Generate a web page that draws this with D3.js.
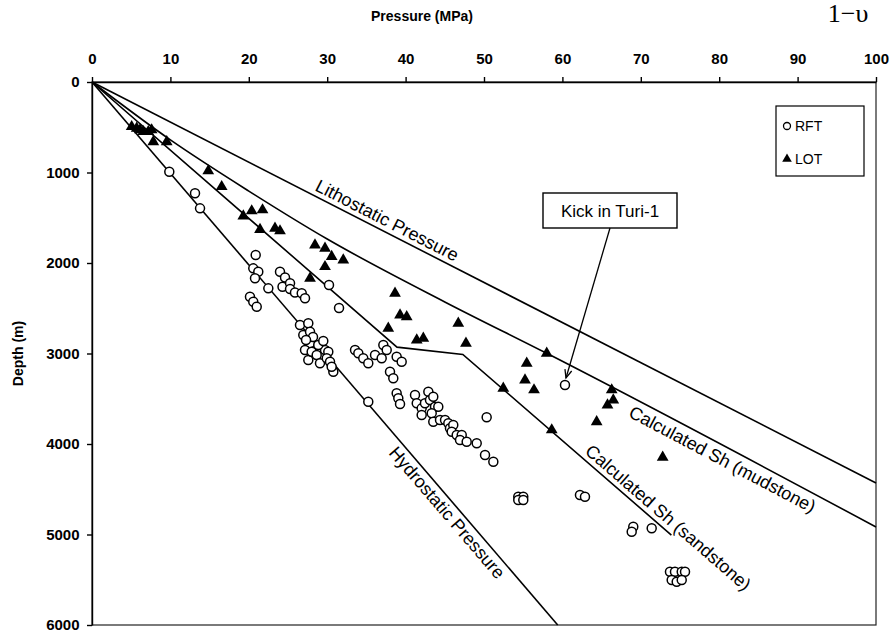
<!DOCTYPE html>
<html>
<head>
<meta charset="utf-8">
<script src="https://cdn.jsdelivr.net/npm/d3@7"></script>
<style>
  body { margin: 0; background: #fff; }
  svg text { font-family: "Liberation Sans", Arial, Helvetica, sans-serif; fill: #000; }
</style>
</head>
<body>
<svg id="chart" width="893" height="631"></svg>
<script>
// axis ticks
const pressureTicks = [0, 10, 20, 30, 40, 50, 60, 70, 80, 90, 100];
const depthTicks = [0, 1000, 2000, 3000, 4000, 5000, 6000];

// pressure (MPa), depth (m) pairs
const lithostatic = [[0, 0], [100, 4430]];
const hydrostatic = [[0, 0], [59.4, 6000]];
const mudstone = [[0, 0], [10, 640], [20, 1205], [30, 1735], [45, 2430], [58, 2998], [100, 4917]];
const sandstone = [[0, 0], [38.9, 2930], [47.3, 3010], [73.9, 5006]];

const rft = [
  [9.86, 991], [13.14, 1230], [13.78, 1396], [20.88, 1912], [20.57, 2059], [21.21, 2096],
  [20.79, 2169], [22.49, 2280], [20.15, 2372], [20.57, 2428], [21.01, 2483], [23.98, 2096],
  [24.62, 2160], [24.30, 2262], [25.26, 2224], [25.26, 2287], [25.89, 2326], [26.75, 2335],
  [27.17, 2390], [30.23, 2243], [31.51, 2497],
  [26.53, 2685], [27.59, 2666], [26.95, 2796], [27.81, 2759], [27.81, 2887], [27.17, 2961],
  [27.59, 3072], [28.02, 2980], [28.66, 3017], [29.08, 3108], [29.72, 2961], [30.14, 2980],
  [29.94, 3053], [30.36, 3091], [30.78, 3201], [30.57, 3146], [28.86, 2906], [29.5, 2862],
  [28.19, 2818], [27.3, 2851],
  [33.55, 2961], [33.97, 2998], [34.60, 3053], [35.24, 3108], [36.10, 3017], [36.95, 3053],
  [37.16, 2906], [37.59, 2961], [38.86, 3035], [39.50, 3091], [38.01, 3201], [38.43, 3274],
  [38.86, 3440], [39.07, 3495], [39.29, 3558], [35.24, 3533],
  [41.20, 3459], [41.42, 3550], [42.05, 3606], [42.05, 3680], [42.47, 3550], [42.90, 3422],
  [43.11, 3514], [43.53, 3477], [43.75, 3588], [44.17, 3588], [43.33, 3661], [43.53, 3754],
  [44.39, 3735], [45.03, 3735], [45.45, 3771], [45.66, 3826], [46.08, 3790], [45.88, 3864],
  [46.52, 3901], [47.16, 3901], [46.94, 3956], [47.79, 3975], [49.07, 3992], [50.34, 3705],
  [50.13, 4122], [51.19, 4196],
  [60.33, 3348],
  [54.37, 4582], [55.01, 4582], [54.37, 4619], [55.01, 4619],
  [62.24, 4564], [62.88, 4582], [69.04, 4914], [68.84, 4969], [71.39, 4931],
  [73.72, 5411], [74.36, 5411], [75.22, 5411], [75.64, 5411], [73.94, 5503], [74.58, 5522], [75.22, 5503]
];

const lot = [
  [5.06, 494], [5.70, 512], [6.12, 530], [6.54, 549], [7.18, 549], [7.61, 530], [7.82, 660],
  [9.53, 660], [14.83, 983], [16.54, 1157], [19.30, 1481], [20.37, 1425], [21.75, 1414],
  [21.43, 1630], [23.34, 1617], [23.98, 1646], [28.44, 1801], [29.72, 1838], [30.57, 1930],
  [32.05, 1967], [29.72, 2041], [27.81, 2169], [38.65, 2335], [39.29, 2575], [40.14, 2594],
  [37.79, 2722], [41.42, 2851], [42.26, 2832], [46.72, 2666], [47.70, 2887], [52.46, 3385],
  [55.45, 3108], [55.23, 3293], [56.38, 3403], [58.00, 2998], [58.64, 3845], [66.29, 3403],
  [66.49, 3514], [65.75, 3569], [64.37, 3754], [72.79, 4147]
];

const kick = [60.33, 3348];

const svg = d3.select("#chart");
const x = d3.scaleLinear().domain([0, 100]).range([92, 876]);
const y = d3.scaleLinear().domain([0, 6000]).range([82, 625]);

// frame
svg.append("rect")
  .attr("x", x(0)).attr("y", y(0))
  .attr("width", x(100) - x(0)).attr("height", y(6000) - y(0))
  .attr("fill", "none").attr("stroke", "#222").attr("stroke-width", 1.2);

const xAxis = svg.append("g")
  .attr("transform", `translate(0,${y(0)})`)
  .call(d3.axisTop(x).tickValues(pressureTicks).tickSize(5).tickSizeOuter(0).tickFormat(d3.format("d")));
const yAxis = svg.append("g")
  .attr("transform", `translate(${x(0)},0)`)
  .call(d3.axisLeft(y).tickValues(depthTicks).tickSize(5).tickSizeOuter(0).tickFormat(d3.format("d")));

[xAxis, yAxis].forEach(g => {
  g.selectAll("path, line").attr("stroke", "#000").attr("stroke-width", 1.4);
  g.selectAll("text").attr("font-size", 15).attr("font-weight", "bold");
});
xAxis.selectAll("text").attr("dy", "-0.7em");
yAxis.selectAll("text").attr("dx", "-0.3em");

svg.append("text")
  .attr("x", 422).attr("y", 21)
  .attr("text-anchor", "middle")
  .attr("font-size", 14).attr("font-weight", "bold")
  .text("Pressure (MPa)");

svg.append("text")
  .attr("transform", `translate(23,${y(3000)}) rotate(-90)`)
  .attr("text-anchor", "middle")
  .attr("font-size", 14).attr("font-weight", "bold")
  .text("Depth (m)");

// piece of the formula cut off at the top
svg.append("text")
  .attr("x", 848).attr("y", 22)
  .attr("text-anchor", "middle")
  .style("font-family", "'Liberation Serif', 'DejaVu Serif', serif")
  .attr("font-size", 26)
  .text("1−υ");

// lines
const line = d3.line().x(d => x(d[0])).y(d => y(d[1]));
const curve = d3.line().x(d => x(d[0])).y(d => y(d[1])).curve(d3.curveMonotoneX);

[lithostatic, hydrostatic, sandstone].forEach(data => {
  svg.append("path").datum(data)
    .attr("d", line)
    .attr("fill", "none").attr("stroke", "#000").attr("stroke-width", 1.6);
});
svg.append("path").datum(mudstone)
  .attr("d", curve)
  .attr("fill", "none").attr("stroke", "#000").attr("stroke-width", 1.6);

// labels along lines
function lineLabel(text, p0, p1, t, offset) {
  const xa = x(p0[0]), ya = y(p0[1]), xb = x(p1[0]), yb = y(p1[1]);
  const angle = Math.atan2(yb - ya, xb - xa) * 180 / Math.PI;
  const cx = xa + (xb - xa) * t, cy = ya + (yb - ya) * t;
  svg.append("text")
    .attr("transform", `translate(${cx},${cy}) rotate(${angle})`)
    .attr("text-anchor", "middle")
    .attr("dy", offset)
    .attr("font-size", 18)
    .text(text);
}
lineLabel("Lithostatic Pressure", lithostatic[0], lithostatic[1], 0.37, -5);
lineLabel("Hydrostatic Pressure", hydrostatic[0], hydrostatic[1], 0.78, 17);
lineLabel("Calculated Sh (mudstone)", mudstone[5], mudstone[6], 0.55, 18);
lineLabel("Calculated Sh (sandstone)", sandstone[2], sandstone[3], 0.95, -5);

// points
svg.append("g").selectAll("circle")
  .data(rft).join("circle")
  .attr("cx", d => x(d[0])).attr("cy", d => y(d[1]))
  .attr("r", 4.5)
  .attr("fill", "#fff").attr("stroke", "#000").attr("stroke-width", 1.5);

const tri = d3.symbol().type(d3.symbolTriangle).size(60);
svg.append("g").selectAll("path")
  .data(lot).join("path")
  .attr("transform", d => `translate(${x(d[0])},${y(d[1])})`)
  .attr("d", tri)
  .attr("fill", "#000");

// kick annotation
const boxX = 543, boxY = 193, boxW = 134, boxH = 35;
svg.append("rect")
  .attr("x", boxX).attr("y", boxY).attr("width", boxW).attr("height", boxH)
  .attr("fill", "#fff").attr("stroke", "#000").attr("stroke-width", 1.4);
svg.append("text")
  .attr("x", boxX + boxW / 2).attr("y", boxY + 24)
  .attr("text-anchor", "middle").attr("font-size", 17)
  .text("Kick in Turi-1");

const ax0 = boxX + boxW / 2, ay0 = boxY + boxH;
const ax1 = x(kick[0]) + 1, ay1 = y(kick[1]) - 7;
svg.append("line")
  .attr("x1", ax0).attr("y1", ay0).attr("x2", ax1).attr("y2", ay1)
  .attr("stroke", "#000").attr("stroke-width", 1.3);
const ang = Math.atan2(ay1 - ay0, ax1 - ax0);
const head = 9, spread = 0.4;
svg.append("path")
  .attr("d", `M${ax1 - head * Math.cos(ang - spread)},${ay1 - head * Math.sin(ang - spread)}L${ax1},${ay1}L${ax1 - head * Math.cos(ang + spread)},${ay1 - head * Math.sin(ang + spread)}`)
  .attr("fill", "none").attr("stroke", "#000").attr("stroke-width", 1.3);

// legend
const lg = svg.append("g").attr("transform", "translate(776,106)");
lg.append("rect").attr("width", 88).attr("height", 70)
  .attr("fill", "#fff").attr("stroke", "#000").attr("stroke-width", 1.2);
lg.append("circle").attr("cx", 11).attr("cy", 20).attr("r", 3.5)
  .attr("fill", "#fff").attr("stroke", "#000").attr("stroke-width", 1.3);
lg.append("text").attr("x", 19).attr("y", 25).attr("font-size", 14).text("RFT");
lg.append("path").attr("transform", "translate(11,53)")
  .attr("d", d3.symbol().type(d3.symbolTriangle).size(40)).attr("fill", "#000");
lg.append("text").attr("x", 19).attr("y", 58).attr("font-size", 14).text("LOT");
</script>
</body>
</html>
